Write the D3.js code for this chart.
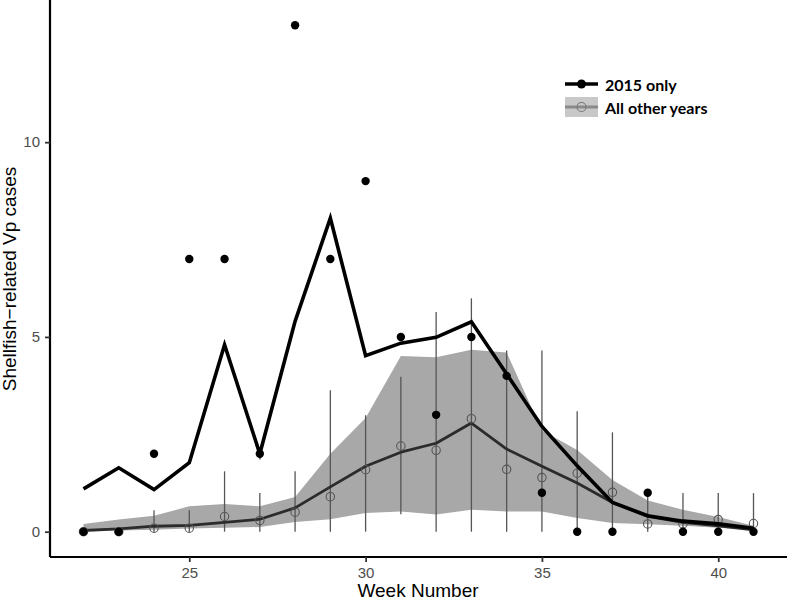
<!DOCTYPE html>
<html><head><meta charset="utf-8">
<script src="https://cdn.jsdelivr.net/npm/d3@7"></script>
<style>body{margin:0;background:#fff}</style>
</head><body>
<svg id="c" width="788" height="601"></svg>
<script>
const weeks      = [22,23,24,25,26,27,28,29,30,31,32,33,34,35,36,37,38,39,40,41];
const cases2015  = [0,0,2,7,7,2,13,7,9,5,3,5,4,1,0,0,1,0,0,0];
const fit2015    = [1.1,1.64,1.08,1.77,4.8,2.0,5.4,8.05,4.52,4.84,4.99,5.39,4.05,2.7,1.69,0.75,0.41,0.27,0.2,0.09];
const otherMean  = [0,0,0.09,0.09,0.39,0.29,0.5,0.9,1.59,2.2,2.09,2.9,1.6,1.39,1.5,1.01,0.2,0.2,0.31,0.21];
const barHigh    = [0,0,0.55,0.55,1.55,0.99,1.55,3.63,2.99,3.98,5.64,5.99,4.65,4.65,3.09,2.55,0.99,0.99,0.99,0.99];
const barLow     = [0,0,0,0,0,0,0,0,0,0.45,0,0,0,0,0,0,0,0,0,0];
const otherFit   = [0.03,0.07,0.14,0.16,0.24,0.32,0.61,1.15,1.68,2.04,2.27,2.79,2.12,1.68,1.25,0.75,0.39,0.24,0.15,0.05];
const ribbonHigh = [0.2,0.31,0.41,0.65,0.71,0.65,0.89,2.0,2.92,4.51,4.48,4.67,4.6,2.6,2.1,1.33,0.8,0.56,0.38,0.15];
const ribbonLow  = [0.03,0.03,0.05,0.08,0.1,0.12,0.25,0.32,0.48,0.52,0.44,0.56,0.52,0.52,0.35,0.22,0.19,0.15,0.1,0.05];
const xTicks = [25,30,35,40];
const yTicks = [0,5,10];
const legendLabels = ["2015 only","All other years"];

const svg = d3.select("#c");
const x = d3.scaleLinear().domain([21.05,41.95]).range([50,787]);
const y = d3.scaleLinear().domain([-0.65,13.65]).range([557,0]);

const rows = weeks.map((w,i)=>({w,c:cases2015[i],f:fit2015[i],m:otherMean[i],hi:barHigh[i],lo:barLow[i],of:otherFit[i],rh:ribbonHigh[i],rl:ribbonLow[i]}));

// ribbon
svg.append("path").datum(rows)
  .attr("fill","#a8a8a8")
  .attr("d", d3.area().x(d=>x(d.w)).y0(d=>y(d.rl)).y1(d=>y(d.rh)));

// error bars
svg.append("g").selectAll("line").data(rows.filter(d=>d.hi>d.lo)).join("line")
  .attr("x1",d=>x(d.w)).attr("x2",d=>x(d.w))
  .attr("y1",d=>y(d.lo)).attr("y2",d=>y(d.hi))
  .attr("stroke","#555").attr("stroke-width",1.3);

// other years fit line
svg.append("path").datum(rows)
  .attr("fill","none").attr("stroke","#2b2b2b").attr("stroke-width",2.8)
  .attr("stroke-linejoin","round")
  .attr("d", d3.line().x(d=>x(d.w)).y(d=>y(d.of)));

// open circles
svg.append("g").selectAll("circle").data(rows).join("circle")
  .attr("cx",d=>x(d.w)).attr("cy",d=>y(d.m)).attr("r",4.2)
  .attr("fill","none").attr("stroke","#555").attr("stroke-width",1.1);

// 2015 line
svg.append("path").datum(rows)
  .attr("fill","none").attr("stroke","#000").attr("stroke-width",3.6)
  .attr("stroke-linejoin","miter")
  .attr("d", d3.line().x(d=>x(d.w)).y(d=>y(d.f)));

// 2015 dots
svg.append("g").selectAll("circle").data(rows).join("circle")
  .attr("cx",d=>x(d.w)).attr("cy",d=>y(d.c)).attr("r",4.2).attr("fill","#000");

// axes
const xa = svg.append("g").attr("transform","translate(0,557)")
  .call(d3.axisBottom(x).tickValues(xTicks).tickSize(5).tickPadding(5));
const ya = svg.append("g").attr("transform","translate(50,0)")
  .call(d3.axisLeft(y).tickValues(yTicks).tickSize(5).tickPadding(5));
[xa,ya].forEach(a=>{
  a.select(".domain").attr("stroke","#000").attr("stroke-width",2.2);
  a.selectAll(".tick line").attr("stroke","#333").attr("stroke-width",1.8);
  a.selectAll(".tick text").attr("fill","#4d4d4d").style("font-family","Liberation Sans, Arial, sans-serif").style("font-size","15px");
});
xa.select(".domain").attr("d","M50,0H787");
ya.select(".domain").attr("d","M0,0V557");

svg.append("text").attr("x",418).attr("y",597).attr("text-anchor","middle")
  .style("font-family","Liberation Sans, Arial, sans-serif").style("font-size","19px").text("Week Number");
svg.append("text").attr("transform","translate(16,279) rotate(-90)").attr("text-anchor","middle")
  .style("font-family","Liberation Sans, Arial, sans-serif").style("font-size","19px").text("Shellfish\u2212related Vp cases");

// legend
const lg = svg.append("g");
lg.append("rect").attr("x",565).attr("y",97).attr("width",33).attr("height",20).attr("fill","#c8c8c8");
lg.append("line").attr("x1",565).attr("x2",598).attr("y1",84).attr("y2",84).attr("stroke","#000").attr("stroke-width",3.6);
lg.append("circle").attr("cx",581.5).attr("cy",84).attr("r",4.5).attr("fill","#000");
lg.append("line").attr("x1",565).attr("x2",598).attr("y1",107).attr("y2",107).attr("stroke","#8a8a8a").attr("stroke-width",2.8);
lg.append("circle").attr("cx",581.5).attr("cy",107).attr("r",4.5).attr("fill","none").attr("stroke","#777").attr("stroke-width",1.1);
lg.selectAll("text").data(legendLabels).join("text")
  .attr("x",605).attr("y",(d,i)=>85+i*23).attr("dy","0.35em")
  .style("font-family","Lato, sans-serif").style("font-weight","bold").style("font-size","16px").text(d=>d);
</script>
</body></html>
